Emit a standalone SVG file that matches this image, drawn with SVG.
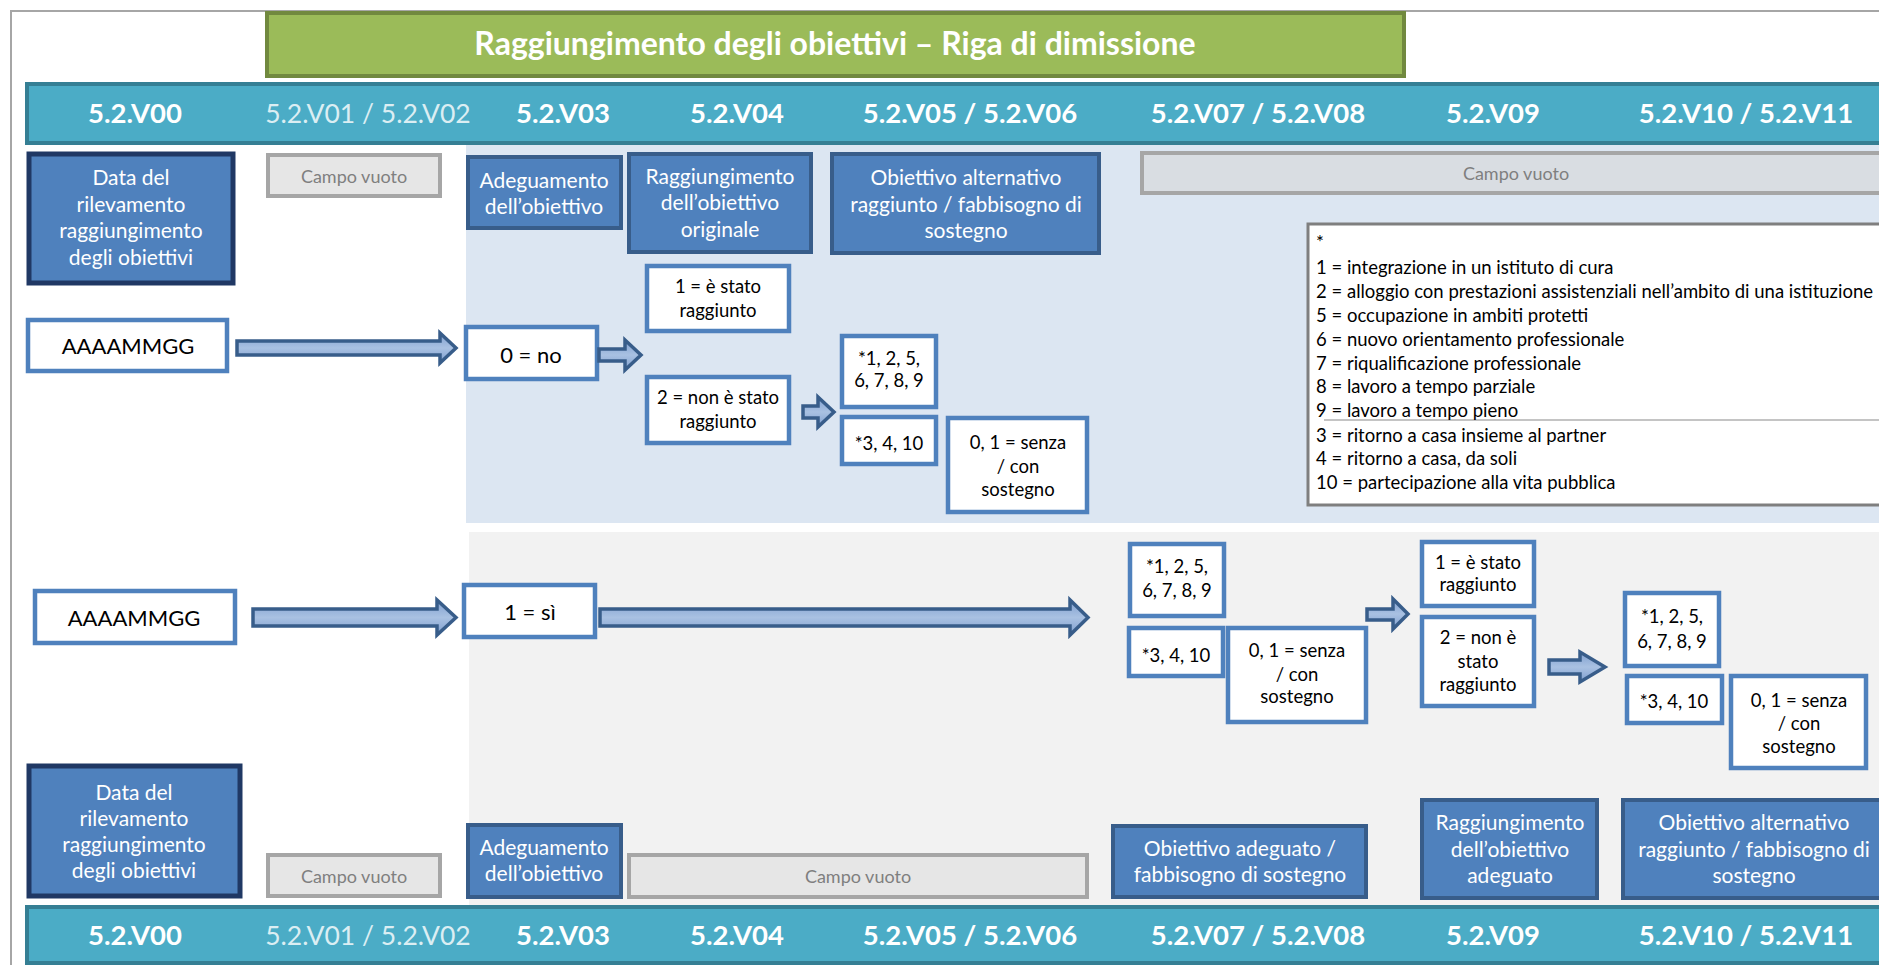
<svg xmlns="http://www.w3.org/2000/svg" width="1879" height="965" viewBox="0 0 1879 965">
<style>
text{font-family:Lato,"Open Sans","Liberation Sans",sans-serif}
.frame{fill:#fff;stroke:#a6a6a6;stroke-width:2}
.bar{fill:#4bacc6;stroke:#357f94;stroke-width:4}
.hd{font-size:27.5px;font-weight:bold;fill:#fff;text-anchor:middle}
.hdl{font-size:26.5px;fill:#dbeef3;text-anchor:middle}
.hb{fill:#4f81bd;stroke:#385d8a;stroke-width:4}
.hbd{fill:#4f81bd;stroke:#203864;stroke-width:5}
.wb{fill:#fff;stroke:#4f81bd;stroke-width:4.5}
.cv{fill:#e6e6e6;stroke:#a6a6a6;stroke-width:4}
.bt{font-size:21px;fill:#fff;text-anchor:middle}
.wt{font-size:18.5px;fill:#000;text-anchor:middle}
.big{font-size:22px;fill:#000;text-anchor:middle}
.cvt{font-size:18px;fill:#7f7f7f;text-anchor:middle}
.lg{font-size:18.5px;fill:#000}
.ar{fill:url(#ag);stroke:#385d8a;stroke-width:3.5;stroke-linejoin:miter}
</style>
<defs>
<linearGradient id="ag" x1="0" y1="0" x2="0" y2="1">
<stop offset="0" stop-color="#7f9fcf"/>
<stop offset="0.5" stop-color="#a9c1e2"/>
<stop offset="1" stop-color="#7f9fcf"/>
</linearGradient>
</defs>
<rect width="1879" height="965" fill="#fff"/>
<rect class="frame" x="11" y="11" width="1900" height="1000"/>
<rect x="466" y="143" width="1420" height="380" fill="#dce6f2"/>
<rect x="469" y="532" width="1420" height="374" fill="#f2f2f2"/>

<g id="title">
<rect x="267" y="13" width="1137" height="63" fill="#9bbb59" stroke="#71893f" stroke-width="4"/>
<text x="835" y="55" style="font-size:32px;font-weight:bold;fill:#fff;text-anchor:middle">Raggiungimento degli obiettivi – Riga di dimissione</text>
</g>

<g id="header-top">
<rect class="bar" x="27" y="84" width="1900" height="59"/>
<text class="hd" x="135" y="123">5.2.V00</text>
<text class="hdl" x="368" y="123">5.2.V01 / 5.2.V02</text>
<text class="hd" x="563" y="123">5.2.V03</text>
<text class="hd" x="737" y="123">5.2.V04</text>
<text class="hd" x="970" y="123">5.2.V05 / 5.2.V06</text>
<text class="hd" x="1258" y="123">5.2.V07 / 5.2.V08</text>
<text class="hd" x="1493" y="123">5.2.V09</text>
<text class="hd" x="1746" y="123">5.2.V10 / 5.2.V11</text>
</g>

<g id="header-bottom">
<rect class="bar" x="27" y="907" width="1900" height="56"/>
<text class="hd" x="135" y="945">5.2.V00</text>
<text class="hdl" x="368" y="945">5.2.V01 / 5.2.V02</text>
<text class="hd" x="563" y="945">5.2.V03</text>
<text class="hd" x="737" y="945">5.2.V04</text>
<text class="hd" x="970" y="945">5.2.V05 / 5.2.V06</text>
<text class="hd" x="1258" y="945">5.2.V07 / 5.2.V08</text>
<text class="hd" x="1493" y="945">5.2.V09</text>
<text class="hd" x="1746" y="945">5.2.V10 / 5.2.V11</text>
</g>

<g id="top-data">
<rect class="hbd" x="29" y="154" width="204" height="129"/>
<text class="bt" x="131" y="185">Data del</text>
<text class="bt" x="131" y="212">rilevamento</text>
<text class="bt" x="131" y="238">raggiungimento</text>
<text class="bt" x="131" y="265">degli obiettivi</text>
</g>
<g id="top-campo-1">
<rect class="cv" x="268" y="155" width="172" height="41"/>
<text class="cvt" x="354" y="183">Campo vuoto</text>
</g>
<g id="top-adeguamento">
<rect class="hb" x="468" y="157" width="153" height="71"/>
<text class="bt" x="544" y="188">Adeguamento</text>
<text class="bt" x="544" y="214">dell’obiettivo</text>
</g>
<g id="top-raggiungimento">
<rect class="hb" x="629" y="154" width="182" height="98"/>
<text class="bt" x="720" y="184">Raggiungimento</text>
<text class="bt" x="720" y="210">dell’obiettivo</text>
<text class="bt" x="720" y="237">originale</text>
</g>
<g id="top-alternativo">
<rect class="hb" x="832" y="154" width="267" height="99"/>
<text class="bt" x="966" y="185">Obiettivo alternativo</text>
<text class="bt" x="966" y="212">raggiunto / fabbisogno di</text>
<text class="bt" x="966" y="238">sostegno</text>
</g>
<g id="top-campo-2">
<rect class="cv" x="1142" y="153" width="800" height="40" style="fill:#d9dde2"/>
<text class="cvt" x="1516" y="180">Campo vuoto</text>
</g>

<g id="legend">
<rect x="1308" y="224" width="640" height="281" fill="#fff" stroke="#7f7f7f" stroke-width="3"/>
<line x1="1324" y1="420" x2="1900" y2="420" stroke="#b0b0b0" stroke-width="1.5"/>
<text class="lg" x="1316" y="249">*</text>
<text class="lg" x="1316" y="274">1 = integrazione in un istituto di cura</text>
<text class="lg" x="1316" y="298">2 = alloggio con prestazioni assistenziali nell’ambito di una istituzione</text>
<text class="lg" x="1316" y="322">5 = occupazione in ambiti protetti</text>
<text class="lg" x="1316" y="346">6 = nuovo orientamento professionale</text>
<text class="lg" x="1316" y="370">7 = riqualificazione professionale</text>
<text class="lg" x="1316" y="393">8 = lavoro a tempo parziale</text>
<text class="lg" x="1316" y="417">9 = lavoro a tempo pieno</text>
<text class="lg" x="1316" y="442">3 = ritorno a casa insieme al partner</text>
<text class="lg" x="1316" y="465">4 = ritorno a casa, da soli</text>
<text class="lg" x="1316" y="489">10 = partecipazione alla vita pubblica</text>
</g>

<g id="u-date">
<rect class="wb" x="28" y="320" width="199" height="51"/>
<text class="big" x="128" y="354">AAAAMMGG</text>
</g>
<g id="u-no">
<rect class="wb" x="466" y="327" width="131" height="52"/>
<text class="big" x="531" y="363">0 = no</text>
</g>
<g id="u-raggiunto">
<rect class="wb" x="647" y="266" width="142" height="65"/>
<text class="wt" x="718" y="293">1 = è stato</text>
<text class="wt" x="718" y="317">raggiunto</text>
</g>
<g id="u-nonraggiunto">
<rect class="wb" x="647" y="377" width="142" height="66"/>
<text class="wt" x="718" y="404">2 = non è stato</text>
<text class="wt" x="718" y="428">raggiunto</text>
</g>
<g id="u-codes1">
<rect class="wb" x="842" y="336" width="94" height="71"/>
<text class="wt" x="889" y="365">*1, 2, 5,</text>
<text class="wt" x="889" y="387">6, 7, 8, 9</text>
</g>
<g id="u-codes2">
<rect class="wb" x="842" y="417" width="94" height="47"/>
<text class="wt" x="889" y="450">*3, 4, 10</text>
</g>
<g id="u-sostegno">
<rect class="wb" x="948" y="418" width="139" height="94"/>
<text class="wt" x="1018" y="449">0, 1 = senza</text>
<text class="wt" x="1018" y="473">/ con</text>
<text class="wt" x="1018" y="496">sostegno</text>
</g>

<g id="l-date">
<rect class="wb" x="35" y="591" width="200" height="52"/>
<text class="big" x="134" y="626">AAAAMMGG</text>
</g>
<g id="l-si">
<rect class="wb" x="464" y="585" width="131" height="52"/>
<text class="big" x="530" y="620">1 = sì</text>
</g>
<g id="l-codes1">
<rect class="wb" x="1130" y="544" width="94" height="72"/>
<text class="wt" x="1177" y="573">*1, 2, 5,</text>
<text class="wt" x="1177" y="597">6, 7, 8, 9</text>
</g>
<g id="l-codes2">
<rect class="wb" x="1129" y="628" width="94" height="48"/>
<text class="wt" x="1176" y="662">*3, 4, 10</text>
</g>
<g id="l-sostegno">
<rect class="wb" x="1228" y="628" width="138" height="94"/>
<text class="wt" x="1297" y="657">0, 1 = senza</text>
<text class="wt" x="1297" y="681">/ con</text>
<text class="wt" x="1297" y="703">sostegno</text>
</g>
<g id="l-raggiunto">
<rect class="wb" x="1422" y="542" width="112" height="64"/>
<text class="wt" x="1478" y="569">1 = è stato</text>
<text class="wt" x="1478" y="591">raggiunto</text>
</g>
<g id="l-nonraggiunto">
<rect class="wb" x="1422" y="617" width="112" height="89"/>
<text class="wt" x="1478" y="644">2 = non è</text>
<text class="wt" x="1478" y="668">stato</text>
<text class="wt" x="1478" y="691">raggiunto</text>
</g>
<g id="r-codes1">
<rect class="wb" x="1625" y="593" width="94" height="73"/>
<text class="wt" x="1672" y="623">*1, 2, 5,</text>
<text class="wt" x="1672" y="648">6, 7, 8, 9</text>
</g>
<g id="r-codes2">
<rect class="wb" x="1627" y="676" width="95" height="47"/>
<text class="wt" x="1674" y="708">*3, 4, 10</text>
</g>
<g id="r-sostegno">
<rect class="wb" x="1731" y="676" width="135" height="92"/>
<text class="wt" x="1799" y="707">0, 1 = senza</text>
<text class="wt" x="1799" y="730">/ con</text>
<text class="wt" x="1799" y="753">sostegno</text>
</g>

<g id="bot-data">
<rect class="hbd" x="29" y="766" width="211" height="130"/>
<text class="bt" x="134" y="800">Data del</text>
<text class="bt" x="134" y="826">rilevamento</text>
<text class="bt" x="134" y="852">raggiungimento</text>
<text class="bt" x="134" y="878">degli obiettivi</text>
</g>
<g id="bot-campo-1">
<rect class="cv" x="268" y="855" width="172" height="41"/>
<text class="cvt" x="354" y="883">Campo vuoto</text>
</g>
<g id="bot-adeguamento">
<rect class="hb" x="468" y="825" width="153" height="72"/>
<text class="bt" x="544" y="855">Adeguamento</text>
<text class="bt" x="544" y="881">dell’obiettivo</text>
</g>
<g id="bot-campo-2">
<rect class="cv" x="629" y="855" width="458" height="42"/>
<text class="cvt" x="858" y="883">Campo vuoto</text>
</g>
<g id="bot-adeguato">
<rect class="hb" x="1113" y="826" width="253" height="71"/>
<text class="bt" x="1240" y="856">Obiettivo adeguato /</text>
<text class="bt" x="1240" y="882">fabbisogno di sostegno</text>
</g>
<g id="bot-raggiungimento">
<rect class="hb" x="1422" y="800" width="175" height="98"/>
<text class="bt" x="1510" y="830">Raggiungimento</text>
<text class="bt" x="1510" y="857">dell’obiettivo</text>
<text class="bt" x="1510" y="883">adeguato</text>
</g>
<g id="bot-alternativo">
<rect class="hb" x="1623" y="800" width="300" height="98"/>
<text class="bt" x="1754" y="830">Obiettivo alternativo</text>
<text class="bt" x="1754" y="857">raggiunto / fabbisogno di</text>
<text class="bt" x="1754" y="883">sostegno</text>
</g>

<g id="connectors">
<path class="ar" d="M237,341 H440 V333 L456,348 L440,363 V355 H237 Z"/>
<path class="ar" d="M599,349 H625 V340 L641,355 L625,370 V361 H599 Z"/>
<path class="ar" d="M803,406 H818 V397 L834,412 L818,427 V418 H803 Z"/>
<path class="ar" d="M253,609 H437 V600 L456,617.5 L437,635 V626 H253 Z"/>
<path class="ar" d="M600,609 H1070 V600 L1088,617.5 L1070,635 V626 H600 Z"/>
<path class="ar" d="M1367,609 H1393 V599 L1408,614 L1393,629 V620 H1367 Z"/>
<path class="ar" d="M1549,660 H1580 V652 L1605,667 L1580,682 V674 H1549 Z"/>
</g>
</svg>
